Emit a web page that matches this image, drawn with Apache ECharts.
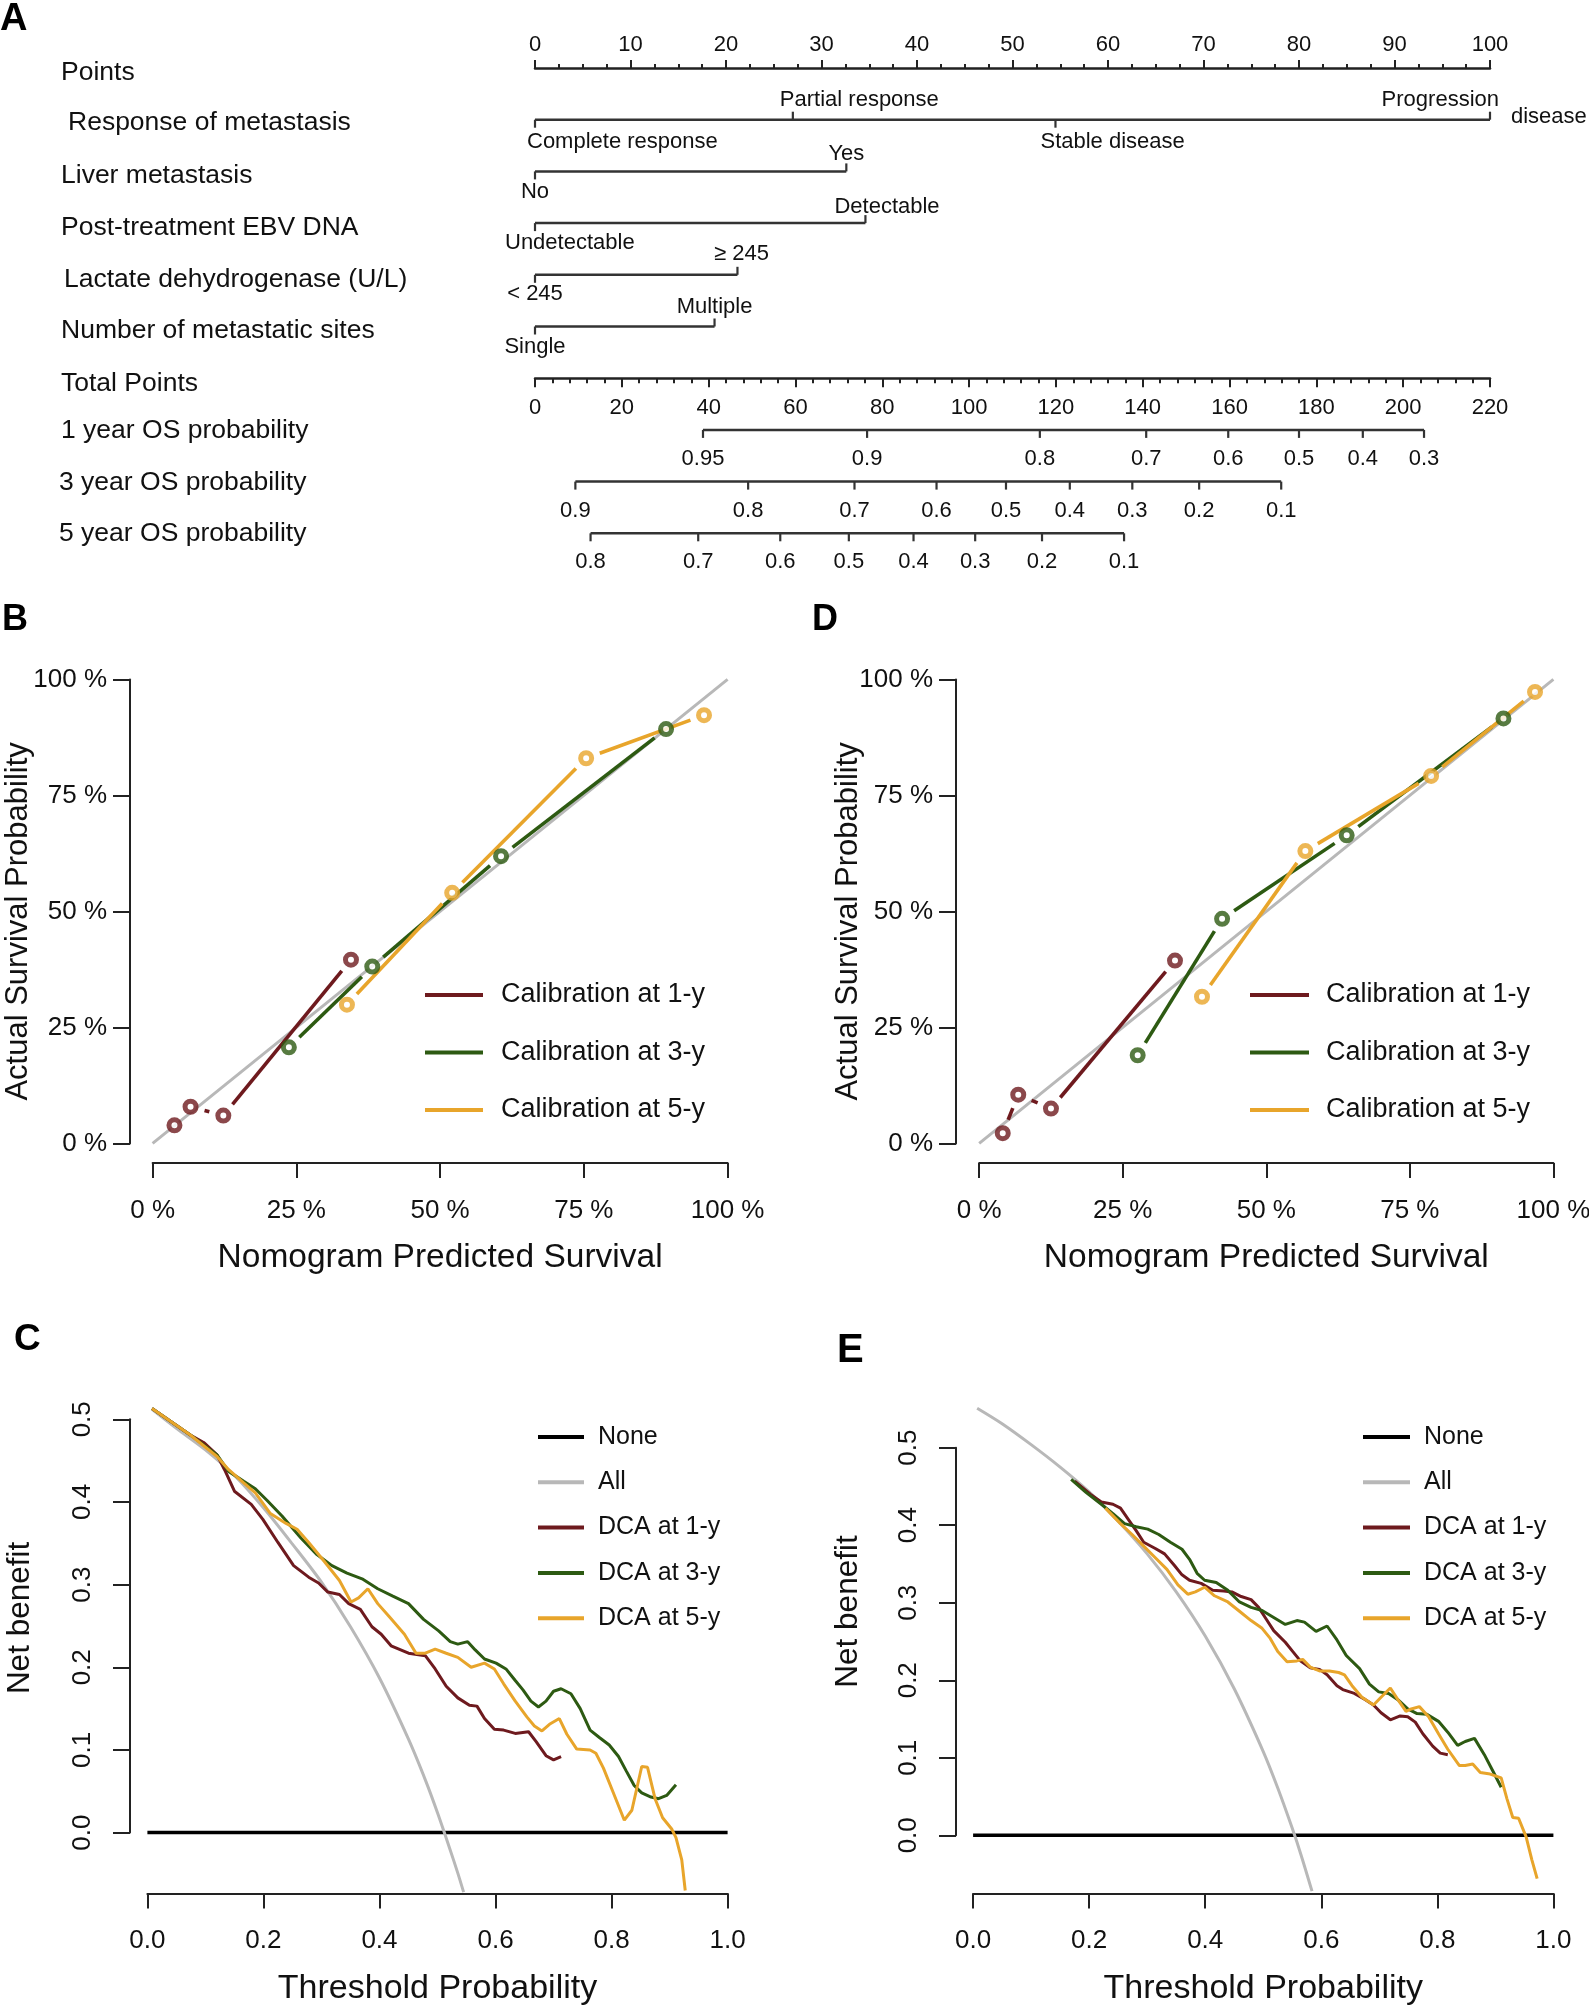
<!DOCTYPE html>
<html><head><meta charset="utf-8">
<script src="https://cdn.jsdelivr.net/npm/echarts@6/dist/echarts.min.js"></script>
<style>html,body{margin:0;padding:0;background:#fff}#c{width:1589px;height:2006px}</style>
</head><body><div id="c"></div>
<script>
// ================= DATA =================
// Panel A: nomogram
const nomoRowNames = ['Points','Response of metastasis','Liver metastasis','Post-treatment EBV DNA','Lactate dehydrogenase (U/L)','Number of metastatic sites','Total Points','1 year OS probability','3 year OS probability','5 year OS probability'];
const responseLevels = ['Complete response','Partial response','Stable disease','Progression disease'];
const responsePoints = [0, 27, 54.5, 100];
const liverLevels = ['No','Yes'];
const liverPoints = [0, 32.6];
const ebvLevels = ['Undetectable','Detectable'];
const ebvPoints = [0, 34.6];
const ldhLevels = ['< 245','≥ 245'];
const ldhPoints = [0, 21.2];
const sitesLevels = ['Single','Multiple'];
const sitesPoints = [0, 18.8];
const os1Probs = ['0.95','0.9','0.8','0.7','0.6','0.5','0.4','0.3'];
const os1TotalPoints = [38.7, 76.5, 116.3, 140.8, 159.7, 176.0, 190.7, 204.8];
const os3Probs = ['0.9','0.8','0.7','0.6','0.5','0.4','0.3','0.2','0.1'];
const os3TotalPoints = [9.3, 49.1, 73.6, 92.5, 108.5, 123.2, 137.6, 153.0, 171.9];
const os5Probs = ['0.8','0.7','0.6','0.5','0.4','0.3','0.2','0.1'];
const os5TotalPoints = [12.8, 37.6, 56.5, 72.3, 87.2, 101.4, 116.8, 135.7];

// Panel B: calibration (training) - predicted %, observed %
const calB_pred_1y = [3.8, 6.6, 12.3, 34.5];
const calB_obs_1y  = [3.9, 7.9, 6.0, 39.6];
const calB_pred_3y = [23.7, 38.2, 60.6, 89.3];
const calB_obs_3y  = [20.7, 38.1, 61.9, 89.3];
const calB_pred_5y = [33.8, 52.1, 75.4, 95.9];
const calB_obs_5y  = [29.9, 54.0, 83.0, 92.3];
// Panel D: calibration (validation)
const calD_pred_1y = [4.1, 6.8, 12.5, 34.1];
const calD_obs_1y  = [2.2, 10.5, 7.5, 39.4];
const calD_pred_3y = [27.6, 42.3, 64.0, 91.3];
const calD_obs_3y  = [19.0, 48.4, 66.4, 91.6];
const calD_pred_5y = [38.8, 56.8, 78.7, 96.8];
const calD_obs_5y  = [31.6, 63.0, 79.2, 97.3];

// Panel C: decision curves (training)
const dcaC_none_x = [0, 1];
const dcaC_none_y = [0, 0];
const dcaC_all_x = [0.008,0.05,0.1,0.15,0.2,0.25,0.3,0.35,0.4,0.45,0.48,0.5,0.52,0.535,0.545];
const dcaC_all_y = [0.512,0.489,0.463,0.432,0.393,0.349,0.303,0.249,0.187,0.113,0.062,0.024,-0.017,-0.049,-0.072];
const dcaC_1y_x = [0.008,0.074,0.097,0.120,0.133,0.150,0.179,0.199,0.225,0.252,0.278,0.295,0.311,0.331,0.347,0.367,0.387,0.403,0.420,0.450,0.479,0.496,0.515,0.535,0.555,0.568,0.581,0.598,0.614,0.634,0.657,0.670,0.687,0.700,0.713];
const dcaC_1y_y = [0.513,0.481,0.472,0.457,0.439,0.413,0.397,0.379,0.351,0.323,0.309,0.302,0.291,0.288,0.277,0.270,0.249,0.240,0.226,0.217,0.214,0.198,0.177,0.163,0.154,0.153,0.138,0.125,0.124,0.120,0.122,0.110,0.093,0.088,0.092];
const dcaC_3y_x = [0.008,0.074,0.120,0.140,0.166,0.186,0.206,0.232,0.265,0.291,0.318,0.344,0.370,0.397,0.423,0.450,0.476,0.502,0.522,0.535,0.552,0.565,0.581,0.601,0.618,0.634,0.647,0.661,0.674,0.687,0.700,0.713,0.730,0.746,0.763,0.779,0.796,0.812,0.825,0.839,0.852,0.868,0.881,0.895,0.911];
const dcaC_3y_y = [0.513,0.481,0.457,0.437,0.425,0.416,0.402,0.383,0.356,0.337,0.323,0.314,0.307,0.295,0.286,0.277,0.258,0.244,0.231,0.228,0.231,0.221,0.210,0.205,0.198,0.184,0.173,0.159,0.152,0.159,0.171,0.174,0.168,0.150,0.124,0.115,0.106,0.092,0.075,0.057,0.048,0.043,0.041,0.045,0.058];
const dcaC_5y_x = [0.008,0.074,0.120,0.140,0.166,0.186,0.212,0.239,0.258,0.278,0.305,0.331,0.351,0.364,0.380,0.397,0.417,0.443,0.463,0.479,0.496,0.515,0.535,0.558,0.581,0.598,0.614,0.634,0.654,0.667,0.680,0.693,0.710,0.723,0.740,0.763,0.773,0.786,0.802,0.822,0.835,0.852,0.862,0.875,0.888,0.904,0.911,0.921,0.927];
const dcaC_5y_y = [0.513,0.481,0.455,0.439,0.423,0.411,0.386,0.374,0.367,0.351,0.328,0.305,0.279,0.284,0.295,0.277,0.261,0.240,0.217,0.217,0.222,0.217,0.212,0.200,0.205,0.198,0.180,0.159,0.140,0.129,0.123,0.131,0.138,0.119,0.101,0.100,0.096,0.078,0.050,0.015,0.027,0.080,0.079,0.041,0.018,0.004,-0.006,-0.033,-0.070];

// Panel E: decision curves (validation)
const dcaE_none_x = [0, 1];
const dcaE_none_y = [0, 0];
const dcaE_all_x = [0.007,0.05,0.1,0.15,0.2,0.25,0.3,0.35,0.4,0.45,0.5,0.525,0.55,0.565,0.584];
const dcaE_all_y = [0.551,0.531,0.504,0.475,0.443,0.405,0.363,0.314,0.257,0.189,0.108,0.061,0.009,-0.025,-0.072];
const dcaE_1y_x = [0.175,0.202,0.221,0.241,0.254,0.268,0.281,0.294,0.314,0.330,0.347,0.360,0.373,0.393,0.413,0.432,0.446,0.462,0.479,0.492,0.505,0.518,0.538,0.551,0.564,0.581,0.597,0.610,0.627,0.637,0.657,0.676,0.690,0.703,0.719,0.736,0.749,0.762,0.775,0.792,0.805,0.818];
const dcaE_1y_y = [0.457,0.440,0.430,0.427,0.422,0.407,0.393,0.378,0.370,0.363,0.348,0.336,0.329,0.325,0.316,0.315,0.314,0.308,0.304,0.294,0.279,0.264,0.249,0.237,0.225,0.216,0.214,0.207,0.193,0.188,0.183,0.175,0.168,0.158,0.149,0.154,0.153,0.146,0.131,0.115,0.106,0.104];
const dcaE_3y_x = [0.169,0.195,0.221,0.241,0.261,0.281,0.301,0.320,0.340,0.360,0.373,0.386,0.399,0.419,0.439,0.459,0.479,0.498,0.518,0.538,0.558,0.571,0.591,0.610,0.627,0.643,0.666,0.683,0.699,0.716,0.732,0.749,0.765,0.782,0.802,0.818,0.835,0.848,0.864,0.881,0.897,0.910];
const dcaE_3y_y = [0.459,0.442,0.427,0.415,0.402,0.398,0.395,0.388,0.378,0.369,0.356,0.338,0.329,0.326,0.316,0.301,0.294,0.290,0.281,0.272,0.277,0.275,0.263,0.270,0.252,0.232,0.215,0.195,0.185,0.183,0.175,0.163,0.157,0.156,0.147,0.133,0.116,0.121,0.125,0.104,0.081,0.062];
const dcaE_5y_x = [0.228,0.254,0.274,0.294,0.314,0.334,0.353,0.370,0.383,0.399,0.416,0.439,0.459,0.479,0.498,0.512,0.525,0.541,0.558,0.568,0.581,0.597,0.614,0.630,0.640,0.653,0.670,0.690,0.703,0.719,0.732,0.746,0.755,0.769,0.785,0.802,0.818,0.838,0.848,0.861,0.874,0.891,0.910,0.920,0.930,0.940,0.953,0.963,0.972];
const dcaE_5y_y = [0.422,0.402,0.388,0.373,0.358,0.343,0.323,0.311,0.314,0.320,0.309,0.301,0.289,0.277,0.267,0.254,0.237,0.224,0.225,0.227,0.217,0.212,0.212,0.210,0.207,0.193,0.178,0.168,0.178,0.190,0.175,0.160,0.163,0.166,0.153,0.131,0.111,0.090,0.090,0.092,0.081,0.079,0.074,0.047,0.023,0.022,-0.002,-0.032,-0.056];

// ================= STYLE / LAYOUT =================
const FONT = "'Liberation Sans', Arial, Helvetica, sans-serif";
const INK = '#111';
const AXIS = '#222';
const NOMO = '#333';
const COL1 = '#6e1a1e', COL3 = '#2d5a12', COL5 = '#e8a52b', GRAY = '#b8b8b8';
// row-name label nudges (px): down shift and right shift
const rowLabelDy = [5, 3, 4, 5, 5, 4, 5, 1, 1, 0];
const rowLabelDx = [2, 9, 2, 2, 5, 2, 2, 2, 0, 0];
// label placement per level: [side(-1 above / 1 below), align, dx, dy, splitSecondWord]
const responseLabelStyle = [[1,'left',-8,22],[-1,'left',-13,-20],[1,'left',-15,22],[-1,'right',9,-20,true]];
const liverLabelStyle = [[1,'center',0,21],[-1,'center',0,-17]];
const ebvLabelStyle = [[1,'left',-30,20],[-1,'left',-31,-16]];
const ldhLabelStyle = [[1,'center',0,19],[-1,'center',4,-21]];
const sitesLabelStyle = [[1,'center',0,20],[-1,'center',0,-20]];

const catRows = [
  {row:1, levels:responseLevels, pts:responsePoints, st:responseLabelStyle},
  {row:2, levels:liverLevels, pts:liverPoints, st:liverLabelStyle},
  {row:3, levels:ebvLevels, pts:ebvPoints, st:ebvLabelStyle},
  {row:4, levels:ldhLevels, pts:ldhPoints, st:ldhLabelStyle},
  {row:5, levels:sitesLevels, pts:sitesPoints, st:sitesLabelStyle}
];
const probRows = [
  {row:7, labels:os1Probs, pts:os1TotalPoints},
  {row:8, labels:os3Probs, pts:os3TotalPoints},
  {row:9, labels:os5Probs, pts:os5TotalPoints}
];
const catItems = [];
catRows.forEach(r => r.levels.forEach((lv, i) => {
  const s = r.st[i];
  catItems.push({x:r.pts[i], row:r.row, text:lv, side:s[0], align:s[1], dx:s[2], dy:s[3], split:!!s[4]});
}));
const probItems = [];
probRows.forEach(r => r.labels.forEach((lb, i) => {
  probItems.push({x:r.pts[i], row:r.row, text:lb, side:1, align:'center', dx:0, dy:29, split:false});
}));

function nomoRender(items) {
  return function (params, api) {
    const d = items[params.dataIndex];
    const p = api.coord([d.x, d.row]);
    const children = [{
      type:'line', shape:{x1:p[0], y1:p[1], x2:p[0], y2:p[1] + d.side * 8},
      style:{stroke:NOMO, lineWidth:2.2}
    }];
    let txt = d.text;
    if (d.split) {
      const parts = txt.split(' ');
      txt = parts[0];
      children.push({type:'text', x:p[0] + 21, y:p[1] - 3,
        style:{text:parts.slice(1).join(' '), fill:INK, fontSize:22, fontFamily:FONT, align:'left', verticalAlign:'middle'}});
    }
    children.push({type:'text', x:p[0] + d.dx, y:p[1] + d.dy,
      style:{text:txt, fill:INK, fontSize:22, fontFamily:FONT, align:d.align, verticalAlign:'middle'}});
    return {type:'group', children};
  };
}

const GAP = 14.5;
function gapSeg(pts, color) {
  return function (params, api) {
    const i = params.dataIndex;
    if (i >= pts.length - 1) return null;
    const a = api.coord(pts[i]), b = api.coord(pts[i + 1]);
    const dx = b[0] - a[0], dy = b[1] - a[1], L = Math.hypot(dx, dy);
    if (L <= 2 * GAP) return null;
    const ux = dx / L, uy = dy / L;
    return {type:'line', shape:{x1:a[0] + ux * GAP, y1:a[1] + uy * GAP, x2:b[0] - ux * GAP, y2:b[1] - uy * GAP},
      style:{stroke:color, lineWidth:3.6, lineCap:'butt'}};
  };
}
const zip = (xs, ys) => xs.map((x, i) => [x, ys[i]]);

// ================= OPTION =================
const series = [];
// Panel A segments
catRows.forEach(r => series.push({type:'line', xAxisIndex:0, yAxisIndex:0, silent:true, clip:false, symbol:'none',
  data:[[Math.min(...r.pts), r.row],[Math.max(...r.pts), r.row]], lineStyle:{color:NOMO, width:2.5}}));
probRows.forEach(r => series.push({type:'line', xAxisIndex:1, yAxisIndex:0, silent:true, clip:false, symbol:'none',
  data:[[Math.min(...r.pts), r.row],[Math.max(...r.pts), r.row]], lineStyle:{color:NOMO, width:2.5}}));
series.push({type:'custom', xAxisIndex:0, yAxisIndex:0, silent:true, clip:false,
  data:catItems.map(d => [d.x, d.row]), renderItem:nomoRender(catItems)});
series.push({type:'custom', xAxisIndex:1, yAxisIndex:0, silent:true, clip:false,
  data:probItems.map(d => [d.x, d.row]), renderItem:nomoRender(probItems)});

// Calibration panels
function addCal(xi, yi, sets) {
  series.push({type:'line', xAxisIndex:xi, yAxisIndex:yi, silent:true, clip:false, symbol:'none', z:1,
    data:[[0,0],[100,100]], lineStyle:{color:GRAY, width:3}});
  sets.forEach(s => {
    const pts = zip(s.pred, s.obs);
    series.push({type:'custom', name:s.name, xAxisIndex:xi, yAxisIndex:yi, silent:true, clip:false, z:2,
      itemStyle:{color:s.color}, data:pts, renderItem:gapSeg(pts, s.color)});
    series.push({type:'scatter', name:s.name, xAxisIndex:xi, yAxisIndex:yi, silent:true, clip:false, z:3,
      symbol:'circle', symbolSize:11, data:pts,
      itemStyle:{color:'#fff', borderColor:s.color, borderWidth:5}});
  });
}
addCal(3, 2, [
  {name:'Calibration at 1-y', pred:calB_pred_1y, obs:calB_obs_1y, color:COL1},
  {name:'Calibration at 3-y', pred:calB_pred_3y, obs:calB_obs_3y, color:COL3},
  {name:'Calibration at 5-y', pred:calB_pred_5y, obs:calB_obs_5y, color:COL5}
]);
addCal(4, 3, [
  {name:'Calibration at 1-y', pred:calD_pred_1y, obs:calD_obs_1y, color:COL1},
  {name:'Calibration at 3-y', pred:calD_pred_3y, obs:calD_obs_3y, color:COL3},
  {name:'Calibration at 5-y', pred:calD_pred_5y, obs:calD_obs_5y, color:COL5}
]);

// DCA panels
function addDca(xi, yi, curves) {
  curves.forEach(c => series.push({type:'line', name:c.name, xAxisIndex:xi, yAxisIndex:yi, silent:true, clip:false,
    symbol:'none', smooth:c.smooth || false, data:zip(c.x, c.y),
    itemStyle:{color:c.color}, lineStyle:{color:c.color, width:c.w || 3}}));
}
addDca(5, 4, [
  {name:'None', x:dcaC_none_x, y:dcaC_none_y, color:'#000', w:3.5},
  {name:'All', x:dcaC_all_x, y:dcaC_all_y, color:GRAY, smooth:0.3},
  {name:'DCA at 1-y', x:dcaC_1y_x, y:dcaC_1y_y, color:COL1},
  {name:'DCA at 3-y', x:dcaC_3y_x, y:dcaC_3y_y, color:COL3},
  {name:'DCA at 5-y', x:dcaC_5y_x, y:dcaC_5y_y, color:COL5}
]);
addDca(6, 5, [
  {name:'None', x:dcaE_none_x, y:dcaE_none_y, color:'#000', w:3.5},
  {name:'All', x:dcaE_all_x, y:dcaE_all_y, color:GRAY, smooth:0.3},
  {name:'DCA at 1-y', x:dcaE_1y_x, y:dcaE_1y_y, color:COL1},
  {name:'DCA at 3-y', x:dcaE_3y_x, y:dcaE_3y_y, color:COL3},
  {name:'DCA at 5-y', x:dcaE_5y_x, y:dcaE_5y_y, color:COL5}
]);

const lineCfg = {show:true, onZero:false, lineStyle:{color:AXIS, width:2}};
function calX(grid, off) {
  return {gridIndex:grid, type:'value', min:0, max:100, interval:25, position:'bottom', offset:off,
    axisLine:lineCfg, axisTick:{show:true, length:15, lineStyle:{color:AXIS, width:2}},
    axisLabel:{formatter:'{value} %', fontSize:26, color:INK, margin:35, fontFamily:FONT},
    splitLine:{show:false}, name:'Nomogram Predicted Survival', nameLocation:'middle', nameGap:78,
    nameMoveOverlap:false, nameTextStyle:{fontSize:33.5, color:INK, fontFamily:FONT}};
}
function calY(grid, off, gap) {
  return {gridIndex:grid, type:'value', min:0, max:100, interval:25, position:'left', offset:off,
    axisLine:lineCfg, axisTick:{show:true, length:17, lineStyle:{color:AXIS, width:2}},
    axisLabel:{formatter:'{value} %', fontSize:26, color:INK, margin:23, fontFamily:FONT},
    splitLine:{show:false}, name:'Actual Survival Probability', nameLocation:'middle', nameGap:gap,
    nameMoveOverlap:false, nameTextStyle:{fontSize:31, color:INK, fontFamily:FONT, padding:[0,20,0,0]}};
}
function dcaX(grid, off) {
  return {gridIndex:grid, type:'value', min:0, max:1, interval:0.2, position:'bottom', offset:off,
    axisLine:lineCfg, axisTick:{show:true, length:15, lineStyle:{color:AXIS, width:2}},
    axisLabel:{formatter:v => v.toFixed(1), fontSize:26, color:INK, margin:34, fontFamily:FONT},
    splitLine:{show:false}, name:'Threshold Probability', nameLocation:'middle', nameGap:78,
    nameMoveOverlap:false, nameTextStyle:{fontSize:34, color:INK, fontFamily:FONT}};
}
function dcaY(grid, off, gap, shiftUp) {
  return {gridIndex:grid, type:'value', min:0, max:0.5, interval:0.1, position:'left', offset:off,
    axisLine:lineCfg, axisTick:{show:true, length:17, lineStyle:{color:AXIS, width:2}},
    axisLabel:{formatter:v => v.toFixed(1), fontSize:26, color:INK, margin:34, rotate:90,
      align:'center', verticalAlign:'bottom', fontFamily:FONT},
    splitLine:{show:false}, name:'Net benefit', nameLocation:'middle', nameGap:gap,
    nameMoveOverlap:false, nameTextStyle:{fontSize:31.5, color:INK, fontFamily:FONT, padding:[0,0,0,shiftUp * 2]}};
}
function legend(left, top, names, colors, w, fs, lh, gap, pad) {
  return {left, top, orient:'vertical', icon:'rect', itemWidth:w, itemHeight:4, itemGap:gap, selectedMode:false,
    padding:0, textStyle:{fontSize:fs, lineHeight:lh, color:INK, fontFamily:FONT, padding:[0,0,0,pad]},
    data:names.map((n, i) => ({name:n, itemStyle:{color:colors[i], borderWidth:0}}))};
}
const calNames = ['Calibration at 1-y','Calibration at 3-y','Calibration at 5-y'];
const dcaNames = ['None','All','DCA at 1-y','DCA at 3-y','DCA at 5-y'];
const dcaCols = ['#000', GRAY, COL1, COL3, COL5];

const letter = (t, left, top, fs) => ({text:t, left, top, padding:0,
  textStyle:{fontSize:fs, fontWeight:'bold', color:'#000', fontFamily:FONT}});

const rowRich = {};
nomoRowNames.forEach((n, i) => {
  rowRich['r' + i] = {fontSize:26.5, color:INK, fontFamily:FONT, padding:[rowLabelDy[i] * 2, 0, 0, rowLabelDx[i]]};
});

const option = {
  animation:false,
  textStyle:{fontFamily:FONT},
  title:[letter('A', 0, 1, 38), letter('B', 2, 602, 36), letter('D', 812, 602, 36), letter('C', 14, 1321, 37), letter('E', 837, 1331, 40)],
  grid:[
    {left:535, top:68, width:955, height:465.3, containLabel:false, outerBoundsMode:'none'},
    {left:535, top:370, width:955, height:8.2, containLabel:false, outerBoundsMode:'none'},
    {left:152.6, top:679.4, width:575, height:464, containLabel:false, outerBoundsMode:'none'},
    {left:979.2, top:679.4, width:574.2, height:464, containLabel:false, outerBoundsMode:'none'},
    {left:147.4, top:1419.3, width:580.2, height:413.3, containLabel:false, outerBoundsMode:'none'},
    {left:973.1, top:1447.7, width:580.3, height:387.6, containLabel:false, outerBoundsMode:'none'}
  ],
  xAxis:[
    {gridIndex:0, type:'value', min:0, max:100, interval:10, position:'top',
      axisLine:{show:true, onZero:false, lineStyle:{color:AXIS, width:2.5}},
      axisTick:{show:true, length:8, lineStyle:{color:AXIS, width:2}},
      minorTick:{show:true, splitNumber:4, length:4, lineStyle:{color:AXIS, width:2}},
      axisLabel:{fontSize:22, color:INK, margin:12, fontFamily:FONT},
      splitLine:{show:false}, minorSplitLine:{show:false}},
    {gridIndex:0, type:'value', min:0, max:220, show:false},
    {gridIndex:1, type:'value', min:0, max:220, interval:20, position:'bottom',
      axisLine:{show:true, onZero:false, lineStyle:{color:AXIS, width:2.5}},
      axisTick:{show:true, length:9, lineStyle:{color:AXIS, width:2}},
      minorTick:{show:true, splitNumber:5, length:5, lineStyle:{color:AXIS, width:2}},
      axisLabel:{fontSize:22, color:INK, margin:19, fontFamily:FONT},
      splitLine:{show:false}, minorSplitLine:{show:false}},
    calX(2, 19.6), calX(3, 19.6),
    dcaX(4, 60.8), dcaX(5, 58.1)
  ],
  yAxis:[
    {gridIndex:0, type:'value', min:0, max:9, interval:1, inverse:true,
      axisLine:{show:false}, axisTick:{show:false}, splitLine:{show:false},
      axisLabel:{show:true, formatter:v => { const i = Math.round(v); return '{r' + i + '|' + nomoRowNames[i] + '}'; },
        align:'left', margin:476, fontSize:26.5, color:INK, fontFamily:FONT, rich:rowRich}},
    {gridIndex:1, type:'value', min:0, max:1, show:false},
    calY(2, 22.6, 96), calY(3, 23.2, 92),
    dcaY(4, 17.4, 94, 8), dcaY(5, 17.1, 92, 30)
  ],
  legend:[
    legend(425, 980, calNames, [COL1, COL3, COL5], 58, 27, 30, 27.5, 13),
    legend(1250, 980, calNames, [COL1, COL3, COL5], 59, 27, 30, 27.5, 12),
    legend(538, 1423, dcaNames, dcaCols, 46, 25, 28, 17.3, 9),
    legend(1363, 1423, dcaNames, dcaCols, 47, 25, 28, 17.3, 9)
  ],
  series
};
const chart = echarts.init(document.getElementById('c'), null, {renderer:'canvas'});
chart.setOption(option);
</script></body></html>
